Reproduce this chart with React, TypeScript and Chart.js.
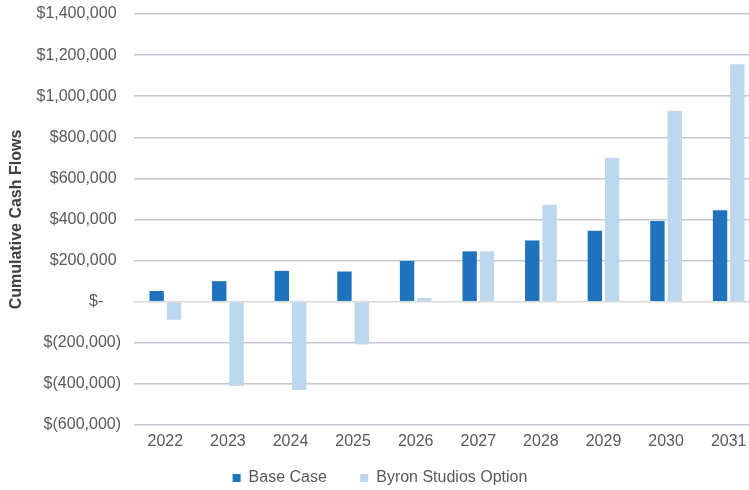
import React, { useEffect, useRef } from "react";
import { Chart, registerables } from "chart.js";

Chart.register(...registerables);

const years = ["2022", "2023", "2024", "2025", "2026", "2027", "2028", "2029", "2030", "2031"];
const baseCase = [52000, 100000, 150000, 147000, 198000, 245000, 298000, 345000, 393000, 445000];
const byronStudios = [-88000, -410000, -430000, -208000, 18000, 245000, 472000, 700000, 928000, 1155000];
const seriesNames = ["Base Case   ", "Byron Studios Option"];
const axisTitle = "Cumulative Cash Flows";

const FONT = "'Liberation Sans', Arial, sans-serif";
const TEXT = "#595959";

function fmt(v: number): string {
  if (v === 0) return "$-    ";
  const s = Math.abs(v).toLocaleString("en-US");
  return v < 0 ? `$(${s})` : `$${s} `;
}

export default function App() {
  const ref = useRef<HTMLCanvasElement | null>(null);
  useEffect(() => {
    document.body.style.margin = "0";
    document.body.style.overflow = "hidden";
    if (!ref.current) return;
    const chart = new Chart(ref.current, {
      type: "bar",
      data: {
        labels: years,
        datasets: [
          { label: seriesNames[0], data: baseCase, backgroundColor: "#1f73bd", borderWidth: 0 },
          { label: seriesNames[1], data: byronStudios, backgroundColor: "#bdd7ee", borderWidth: 0 },
        ],
      },
      options: {
        responsive: false,
        animation: false,
        devicePixelRatio: 1,
        layout: { padding: { top: 14, right: 0, left: 0, bottom: 0 } },
        datasets: { bar: { categoryPercentage: 0.553, barPercentage: 0.83 } },
        plugins: {
          legend: {
            position: "bottom",
            labels: {
              boxWidth: 8,
              boxHeight: 8,
              padding: 20,
              color: TEXT,
              font: { family: FONT, size: 16 },
            },
          },
          tooltip: { enabled: false },
        },
        scales: {
          x: {
            grid: { display: false, drawTicks: false },
            border: { display: false },
            ticks: { color: TEXT, font: { family: FONT, size: 16 }, padding: 7 },
            afterFit: (s: any) => { s.height = 25; },
          },
          y: {
            min: -600000,
            max: 1400000,
            grid: {
              color: (ctx: any) => (ctx.tick && ctx.tick.value === 0 ? "#d9d9d9" : "#c1c8cf"),
              lineWidth: 1.5,
              drawTicks: false,
            },
            border: { display: false },
            ticks: {
              stepSize: 200000,
              color: TEXT,
              padding: 13,
              font: { family: FONT, size: 16 },
              callback: (v: any) => fmt(Number(v)),
            },
            title: {
              display: true,
              text: axisTitle,
              color: "#404040",
              font: { family: FONT, size: 16, weight: "bold" },
              padding: { top: 7, bottom: 4 },
            },
            afterFit: (s: any) => {
              s.width = 134;
              s.paddingTop = 0;
              s.paddingBottom = 0;
            },
          },
        },
      },
    });
    return () => chart.destroy();
  }, []);
  return (
    <div style={{ width: 760, height: 496 }}>
      <canvas ref={ref} width={760} height={496} />
    </div>
  );
}
